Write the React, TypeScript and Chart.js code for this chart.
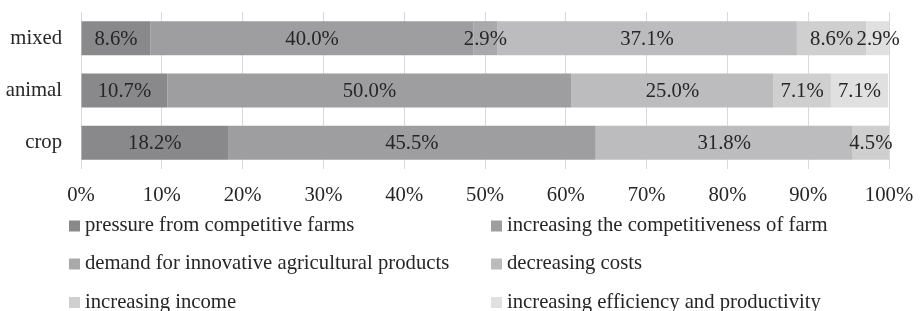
import React, { useEffect, useRef } from "react";
import { Chart, registerables } from "chart.js";

Chart.register(...registerables);

const categories = ["mixed", "animal", "crop"];
const seriesNames = [
  "pressure from competitive farms",
  "increasing the competitiveness of farm",
  "demand for innovative agricultural products",
  "decreasing costs",
  "increasing income",
  "increasing efficiency and productivity",
];
const pressure = [8.6, 10.7, 18.2];
const competitiveness = [40.0, 50.0, 45.5];
const demand = [2.9, 0, 0];
const costs = [37.1, 25.0, 31.8];
const income = [8.6, 7.1, 4.5];
const efficiency = [2.9, 7.1, 0];
const xTicks = [0, 10, 20, 30, 40, 50, 60, 70, 80, 90, 100];
const colors = ["#89898b", "#9e9ea0", "#a9a9ab", "#bcbcbe", "#cfcfd0", "#e0e0e1"];

const FONT = "'Liberation Serif', 'Times New Roman', serif";
const TEXT = "#262626";
const SIZE = 20.7;

const dataLabelPlugin = {
  id: "dataLabels",
  afterDatasetsDraw(chart: any) {
    const ctx = chart.ctx;
    ctx.save();
    ctx.font = `${SIZE}px ${FONT}`;
    ctx.fillStyle = TEXT;
    ctx.textAlign = "center";
    ctx.textBaseline = "middle";
    chart.data.datasets.forEach((ds: any, di: number) => {
      const meta = chart.getDatasetMeta(di);
      meta.data.forEach((el: any, i: number) => {
        const v = ds.data[i];
        if (!v) return;
        const cx = (el.x + el.base) / 2;
        ctx.fillText(`${v.toFixed(1)}%`, cx, el.y + 1);
      });
    });
    ctx.restore();
  },
};

const legendPlugin = {
  id: "gridLegend",
  afterDraw(chart: any) {
    const ctx = chart.ctx;
    const area = chart.chartArea;
    const colX = [area.left - 12, area.left + 410];
    const rowY = [area.bottom + 57, area.bottom + 95, area.bottom + 133.5];
    ctx.save();
    ctx.font = `${SIZE}px ${FONT}`;
    ctx.textAlign = "left";
    ctx.textBaseline = "middle";
    chart.data.datasets.forEach((ds: any, i: number) => {
      const x = colX[i % 2];
      const y = rowY[Math.floor(i / 2)];
      ctx.fillStyle = ds.backgroundColor;
      ctx.fillRect(x, y - 5.5, 11, 11);
      ctx.fillStyle = TEXT;
      ctx.fillText(ds.label, x + 16, y);
    });
    ctx.restore();
  },
};

export default function App() {
  const ref = useRef<HTMLCanvasElement | null>(null);
  useEffect(() => {
    document.body.style.margin = "0";
    const values = [pressure, competitiveness, demand, costs, income, efficiency];
    const chart = new Chart(ref.current as HTMLCanvasElement, {
      type: "bar",
      data: {
        labels: categories,
        datasets: seriesNames.map((name, i) => ({
          label: name,
          data: values[i],
          backgroundColor: colors[i],
          borderWidth: 0,
          barPercentage: 0.65,
          categoryPercentage: 1,
        })),
      },
      options: {
        indexAxis: "y",
        animation: false,
        responsive: false,
        maintainAspectRatio: false,
        layout: { padding: { left: 6, right: 35, top: 12, bottom: 0 } },
        plugins: {
          legend: { display: false },
          tooltip: { enabled: false },
        },
        scales: {
          x: {
            stacked: true,
            min: 0,
            max: 100,
            afterBuildTicks: (s: any) => {
              s.ticks = xTicks.map((v) => ({ value: v }));
            },
            afterFit: (s: any) => {
              s.height = 142;
              s.paddingLeft = 0;
              s.paddingRight = 0;
            },
            grid: { color: "#d9d9d9", lineWidth: 1, drawTicks: false },
            border: { display: false },
            ticks: {
              padding: 14,
              color: TEXT,
              font: { family: FONT, size: SIZE },
              callback: (v: any) => `${v}%`,
              maxRotation: 0,
              autoSkip: false,
            },
          },
          y: {
            stacked: true,
            afterFit: (s: any) => {
              s.width = 75;
              s.paddingTop = 0;
              s.paddingBottom = 0;
            },
            grid: { display: false, drawTicks: false },
            border: { display: false },
            ticks: {
              padding: 19,
              color: TEXT,
              font: { family: FONT, size: SIZE },
            },
          },
        },
      },
      plugins: [dataLabelPlugin, legendPlugin],
    } as any);
    return () => chart.destroy();
  }, []);
  return (
    <div style={{ width: 924, height: 311 }}>
      <canvas ref={ref} width={924} height={311} style={{ display: "block" }} />
    </div>
  );
}
